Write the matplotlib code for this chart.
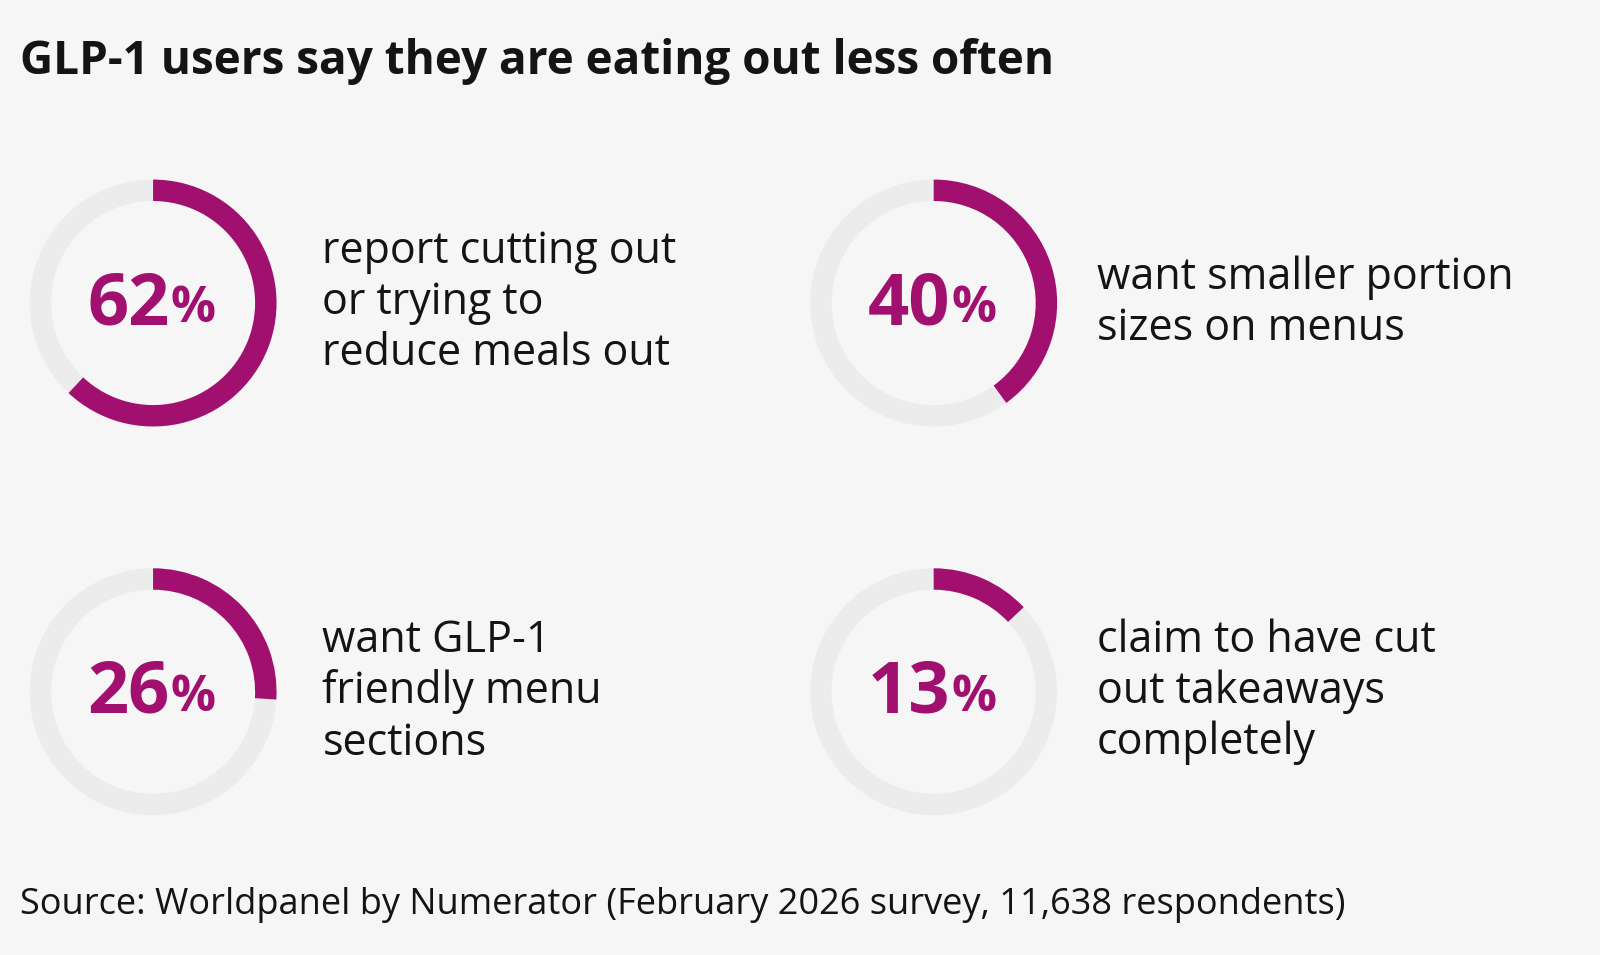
import matplotlib
matplotlib.use("Agg")
import matplotlib.pyplot as plt
from matplotlib.patches import Wedge

# ── data ─────────────────────────────────────────────────────────────────────
title = "GLP-1 users say they are eating out less often"
source = "Source: Worldpanel by Numerator (February 2026 survey, 11,638 respondents)"
percents = [62, 40, 26, 13]
labels = [
    "report cutting out\nor trying to\nreduce meals out",
    "want smaller portion\nsizes on menus",
    "want GLP-1\nfriendly menu\nsections",
    "claim to have cut\nout takeaways\ncompletely",
]

BG = "#f6f6f6"
GREY = "#ececec"
PURPLE = "#a2106f"
W, H = 1568, 936

plt.rcParams['font.family'] = ['Open Sans', 'DejaVu Sans']

fig = plt.figure(figsize=(16, 9.55), dpi=100, facecolor=BG)
ax = fig.add_axes([0, 0, 1, 1])
ax.set_xlim(0, W)
ax.set_ylim(H, 0)
ax.axis('off')
ax.set_facecolor(BG)

fig.text(20 / W, 1 - 60 / H, title, fontsize=33, fontweight='bold',
         va='center', ha='left', color='#141414')
fig.text(20 / W, 1 - 887 / H, source, fontsize=26, va='center',
         ha='left', color='#141414')

centers = [(150, 297), (915, 297), (150, 678), (915, 678)]
text_x = [316, 1075, 316, 1075]
R, RW = 121, 21

for (cx, cy), pct, lab, tx in zip(centers, percents, labels, text_x):
    # y axis is inverted, so angles run mirrored; draw clockwise from top
    ax.add_patch(Wedge((cx, cy), R, 0, 360, width=RW, color=GREY, lw=0))
    ax.add_patch(Wedge((cx, cy), R, 270, 270 + pct * 3.6, width=RW,
                       color=PURPLE, lw=0))
    ax.text(cx + 16, cy + 2, f"{pct}", fontsize=52, fontweight='bold',
            color=PURPLE, ha='right', va='center')
    ax.text(cx + 17, cy + 6, "%", fontsize=36, fontweight='bold',
            color=PURPLE, ha='left', va='center')
    ax.text(tx, cy, lab, fontsize=31, color='#141414', ha='left',
            va='center', linespacing=1.2)

fig.savefig("out.png", dpi=100, facecolor=BG)
